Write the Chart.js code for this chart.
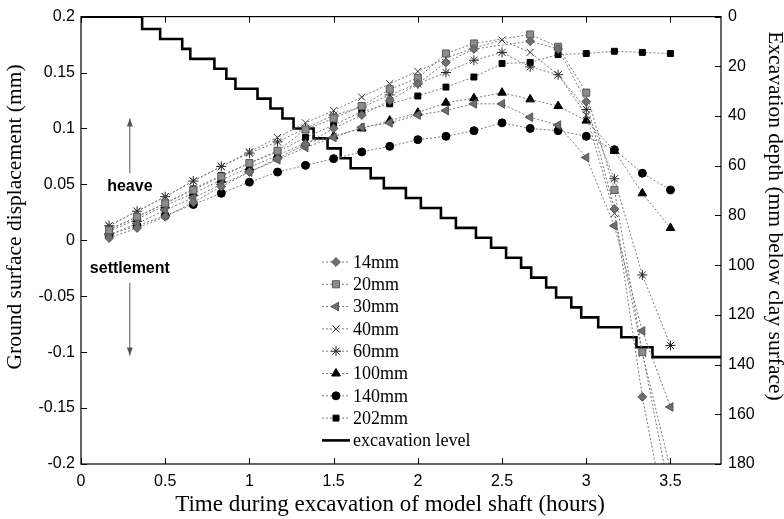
<!DOCTYPE html>
<html>
<head>
<meta charset="utf-8">
<script src="https://cdn.jsdelivr.net/npm/chart.js@4.4.0/dist/chart.umd.min.js"></script>
<style>
html, body { margin: 0; padding: 0; background: #fff; }
</style>
</head>
<body>
<canvas id="myChart" width="784" height="519"></canvas>
<script>
// sample times (hours)
var times = [0.167, 0.333, 0.5, 0.667, 0.833, 1, 1.167, 1.333, 1.5, 1.667, 1.833,
             2, 2.167, 2.333, 2.5, 2.667, 2.833, 3, 3.167, 3.333, 3.5];

// ground surface displacement (mm) per offset from shaft
var d14  = [0.002, 0.011, 0.021, 0.034, 0.048, 0.061, 0.073, 0.086, 0.100, 0.112, 0.125,
            0.140, 0.159, 0.171, null, 0.178, 0.171, 0.124, 0.028, -0.140, -0.27];
var d20  = [0.009, 0.021, 0.033, 0.045, 0.057, 0.069, 0.080, 0.099, 0.109, 0.120, 0.135,
            0.145, 0.167, 0.176, null, 0.184, 0.173, 0.132, 0.045, -0.100, -0.23];
var d30  = [0.005, 0.015, 0.027, 0.038, 0.050, 0.061, 0.072, 0.083, 0.092, 0.101, 0.105,
            0.112, 0.116, 0.122, 0.122, 0.110, 0.103, 0.074, 0.013, -0.081, -0.149];
var d40  = [0.013, 0.026, 0.039, 0.053, 0.066, 0.079, 0.092, 0.105, 0.116, 0.128, 0.140,
            0.151, 0.163, 0.172, 0.179, 0.168, 0.148, 0.112, 0.024, -0.101, -0.205];
var d60  = [0.013, 0.026, 0.039, 0.053, 0.066, 0.078, 0.088, 0.100, 0.112, 0.119, 0.130,
            0.140, 0.150, 0.161, 0.168, 0.155, 0.148, 0.117, 0.055, -0.031, -0.094];
var d100 = [0.008, 0.019, 0.031, 0.042, 0.054, 0.065, 0.076, 0.087, 0.093, 0.100, 0.107,
            0.114, 0.123, 0.127, 0.132, 0.126, 0.120, 0.107, 0.080, 0.042, 0.011];
var d140 = [0.005, 0.013, 0.022, 0.032, 0.042, 0.052, 0.061, 0.067, 0.073, 0.079, 0.084,
            0.090, 0.093, 0.098, 0.105, 0.100, 0.098, 0.093, 0.081, 0.060, 0.045];
var d202 = [0.010, 0.021, 0.033, 0.046, 0.058, 0.069, 0.079, 0.092, 0.103, 0.115, 0.122,
            0.129, 0.137, 0.146, 0.158, 0.159, 0.166, 0.167, 0.169, 0.168, 0.167];

// excavation level: time of each step (hours) and depth reached (mm)
var stepTimes  = [0, 0.363, 0.470, 0.601, 0.649, 0.792, 0.863, 0.917, 1.048, 1.125, 1.196,
                  1.262, 1.381, 1.464, 1.542, 1.601, 1.720, 1.798, 1.929, 2.018, 2.137,
                  2.226, 2.345, 2.435, 2.524, 2.613, 2.673, 2.762, 2.821, 2.911, 2.970,
                  3.071, 3.208, 3.298, 3.393, 3.8];
var stepDepths = [0, 5, 9, 13, 17, 21, 25, 29, 33, 37, 41,
                  45, 49, 53, 57, 61, 65, 69, 73, 77, 81,
                  85, 89, 93, 97, 101, 105, 109, 113, 117, 121,
                  125, 129, 133, 137, 137];

var xTicks  = [0, 0.5, 1, 1.5, 2, 2.5, 3, 3.5];
var yTicks  = [-0.2, -0.15, -0.1, -0.05, 0, 0.05, 0.1, 0.15, 0.2];
var y2Ticks = [0, 20, 40, 60, 80, 100, 120, 140, 160, 180];

var labels = ['14mm', '20mm', '30mm', '40mm', '60mm', '100mm', '140mm', '202mm'];

var xTitle  = 'Time during excavation of model shaft (hours)';
var yTitle  = 'Ground surface displacement (mm)';
var y2Title = 'Excavation depth (mm below clay surface)';

function pts(xs, ys) {
    return xs.map(function(x, i) { return { x: x, y: ys[i] }; });
}

var dotted = [2, 2];
function series(label, values, style, rot, radius, fill, edge) {
    return {
        label: label,
        data: pts(times, values),
        yAxisID: 'y',
        borderColor: '#7a7a7a',
        borderWidth: 1,
        borderDash: dotted,
        spanGaps: true,
        fill: false,
        pointStyle: style,
        rotation: rot,
        pointRadius: radius,
        pointBackgroundColor: fill,
        pointBorderColor: edge,
        pointBorderWidth: 1
    };
}

var datasets = [
    series(labels[0], d14,  'rectRot',  0,   4.4, '#6f6f6f', '#555'),
    series(labels[1], d20,  'rect',     0,   5,   '#8c8c8c', '#5a5a5a'),
    series(labels[2], d30,  'triangle', -90, 5,   '#6e6e6e', '#555'),
    series(labels[3], d40,  'crossRot', 0,   5,   '#333', '#333'),
    series(labels[4], d60,  'star',     0,   5,   '#222', '#222'),
    series(labels[5], d100, 'triangle', 0,   5,   '#000', '#000'),
    series(labels[6], d140, 'circle',   0,   4,   '#000', '#000'),
    series(labels[7], d202, 'rect',     0,   4.2, '#000', '#000'),
    {
        label: 'excavation level',
        data: pts(stepTimes, stepDepths),
        yAxisID: 'y2',
        borderColor: '#000',
        borderWidth: 2.6,
        stepped: 'before',
        pointRadius: 0,
        fill: false
    }
];

var sansFont = { family: 'Liberation Sans, Arial, sans-serif', size: 16 };
var serif = '"Liberation Serif", "Times New Roman", serif';

// frame, inward ticks, axis titles, legend and heave/settlement notes
var decorations = {
    id: 'decorations',
    afterDatasetsDraw: function(chart) {
        var ctx = chart.ctx;
        var a = chart.chartArea;
        var sx = chart.scales.x, sy = chart.scales.y, sy2 = chart.scales.y2;
        var tl = 6;
        ctx.save();
        ctx.strokeStyle = '#000';
        ctx.lineWidth = 1.2;
        ctx.strokeRect(a.left, a.top, a.right - a.left, a.bottom - a.top);
        ctx.lineWidth = 1;
        ctx.beginPath();
        xTicks.forEach(function(v) {
            var px = Math.round(sx.getPixelForValue(v)) + 0.5;
            ctx.moveTo(px, a.bottom); ctx.lineTo(px, a.bottom - tl);
            ctx.moveTo(px, a.top); ctx.lineTo(px, a.top + tl);
        });
        yTicks.forEach(function(v) {
            var py = Math.round(sy.getPixelForValue(v)) + 0.5;
            ctx.moveTo(a.left, py); ctx.lineTo(a.left + tl, py);
        });
        y2Ticks.forEach(function(v) {
            var py = Math.round(sy2.getPixelForValue(v)) + 0.5;
            ctx.moveTo(a.right, py); ctx.lineTo(a.right - tl, py);
        });
        ctx.stroke();

        // axis titles
        ctx.fillStyle = '#000';
        ctx.textAlign = 'center';
        ctx.textBaseline = 'middle';
        ctx.font = '23px ' + serif;
        ctx.fillText(xTitle, 390, 505);
        ctx.font = '21.5px ' + serif;
        ctx.save();
        ctx.translate(15, 217);
        ctx.rotate(-Math.PI / 2);
        ctx.fillText(yTitle, 0, 0);
        ctx.restore();
        ctx.save();
        ctx.translate(775, 216);
        ctx.rotate(Math.PI / 2);
        ctx.fillText(y2Title, 0, 0);
        ctx.restore();

        // legend
        var lx = 322, ly = 262, gap = 22.3;
        ctx.font = '18px ' + serif;
        ctx.textAlign = 'left';
        chart.data.datasets.forEach(function(ds, i) {
            var y = ly + i * gap;
            ctx.save();
            ctx.strokeStyle = ds.borderColor;
            ctx.lineWidth = ds.borderWidth;
            ctx.setLineDash(ds.borderDash || []);
            ctx.beginPath();
            ctx.moveTo(lx, y); ctx.lineTo(lx + 28, y);
            ctx.stroke();
            ctx.restore();
            if (ds.pointRadius > 0) {
                ctx.fillStyle = ds.pointBackgroundColor;
                ctx.strokeStyle = ds.pointBorderColor;
                ctx.lineWidth = 1;
                Chart.helpers.drawPoint(ctx, {
                    pointStyle: ds.pointStyle, rotation: ds.rotation,
                    radius: ds.pointRadius, borderWidth: 1
                }, lx + 14, y);
            }
            ctx.fillStyle = '#000';
            ctx.fillText(ds.label, lx + 31, y + 1);
        });

        // heave / settlement
        var ax = sx.getPixelForValue(0.29);
        ctx.font = 'bold 16px "Liberation Sans", Arial, sans-serif';
        ctx.textAlign = 'center';
        ctx.fillText('heave', ax, sy.getPixelForValue(0.048));
        ctx.fillText('settlement', ax, sy.getPixelForValue(-0.025));
        ctx.strokeStyle = '#555';
        ctx.fillStyle = '#555';
        ctx.lineWidth = 1;
        var upFrom = sy.getPixelForValue(0.06), upTo = sy.getPixelForValue(0.109);
        var dnFrom = sy.getPixelForValue(-0.038), dnTo = sy.getPixelForValue(-0.103);
        ctx.beginPath();
        ctx.moveTo(ax, upFrom); ctx.lineTo(ax, upTo);
        ctx.moveTo(ax, dnFrom); ctx.lineTo(ax, dnTo);
        ctx.stroke();
        ctx.beginPath();
        ctx.moveTo(ax, upTo); ctx.lineTo(ax - 3, upTo + 8); ctx.lineTo(ax + 3, upTo + 8); ctx.closePath();
        ctx.moveTo(ax, dnTo); ctx.lineTo(ax - 3, dnTo - 8); ctx.lineTo(ax + 3, dnTo - 8); ctx.closePath();
        ctx.fill();
        ctx.restore();
    }
};

new Chart(document.getElementById('myChart').getContext('2d'), {
    type: 'line',
    data: { datasets: datasets },
    options: {
        responsive: false,
        animation: false,
        devicePixelRatio: 1,
        layout: { padding: { top: 16, left: 0, right: 0, bottom: 0 } },
        plugins: {
            legend: { display: false },
            tooltip: { enabled: false }
        },
        scales: {
            x: {
                type: 'linear',
                min: 0,
                max: 3.8,
                grid: { display: false, drawTicks: false, tickLength: 0 },
                border: { display: false },
                afterBuildTicks: function(scale) {
                    scale.ticks = xTicks.map(function(v) { return { value: v }; });
                },
                afterFit: function(scale) { scale.height = 55; },
                ticks: {
                    color: '#000', font: sansFont, padding: 8, maxRotation: 0,
                    callback: function(v) { return String(v); }
                }
            },
            y: {
                position: 'left',
                min: -0.2,
                max: 0.2,
                grid: { display: false, drawTicks: false, tickLength: 0 },
                border: { display: false },
                afterBuildTicks: function(scale) {
                    scale.ticks = yTicks.map(function(v) { return { value: v }; });
                },
                afterFit: function(scale) { scale.width = 81; },
                ticks: {
                    color: '#000', font: sansFont, padding: 6,
                    callback: function(v) { return String(parseFloat(v.toFixed(2))); }
                }
            },
            y2: {
                position: 'right',
                min: 0,
                max: 180,
                reverse: true,
                grid: { display: false, drawTicks: false, tickLength: 0 },
                border: { display: false },
                afterBuildTicks: function(scale) {
                    scale.ticks = y2Ticks.map(function(v) { return { value: v }; });
                },
                afterFit: function(scale) { scale.width = 63; },
                ticks: { color: '#000', font: sansFont, padding: 7 }
            }
        }
    },
    plugins: [decorations]
});
</script>
</body>
</html>
